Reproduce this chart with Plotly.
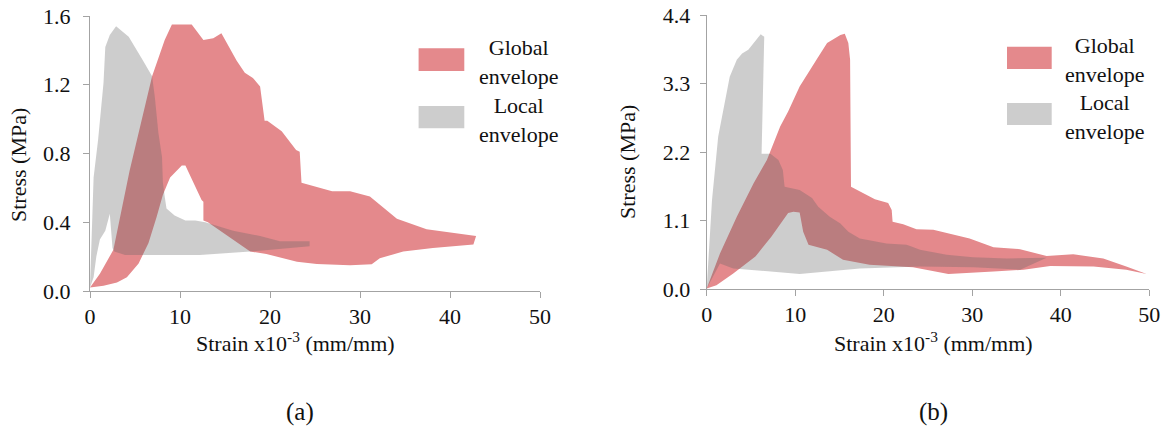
import plotly.graph_objects as go

# ---- (a) envelope outlines: strain (x10^-3 mm/mm) vs stress (MPa) ----
global_a_strain = [0, 1.1, 2.6, 4.4, 6.9, 7.6, 8.3, 9.1, 11.3, 12.6, 13.7, 14.6, 16.3, 17.2, 18.1,
                   18.9, 19.4, 19.7, 21.3, 22.9, 23.3, 23.5, 26.9, 28.9, 31.1, 34.1, 37.4, 42.9,
                   42.6, 38.1, 34.8, 32.2, 31.3, 28.9, 25.2, 23.0, 21.5, 19.6, 17.8, 13.1, 12.6,
                   12.6, 12.4, 11.5, 10.6, 10.2, 10.0, 8.9, 8.1, 7.4, 6.5, 5.4, 4.1, 3.0, 1.5, 0]
global_a_stress = [0.02, 0.10, 0.24, 0.70, 1.25, 1.36, 1.46, 1.55, 1.55, 1.46, 1.47, 1.50, 1.34, 1.27,
                   1.24, 1.19, 0.99, 0.99, 0.93, 0.82, 0.81, 0.63, 0.58, 0.58, 0.55, 0.42, 0.36, 0.32,
                   0.27, 0.25, 0.23, 0.19, 0.155, 0.15, 0.157, 0.17, 0.19, 0.215, 0.23, 0.40, 0.41,
                   0.52, 0.53, 0.63, 0.73, 0.73, 0.72, 0.66, 0.56, 0.43, 0.28, 0.16, 0.08, 0.05, 0.03, 0.02]

local_a_strain = [0, 0.2, 0.4, 0.9, 1.5, 1.7, 2.2, 2.9, 4.3, 5.9, 6.9, 7.2, 7.6, 8.0, 8.1, 8.3, 8.5,
                  9.4, 10.6, 11.7, 12.8, 15.9, 18.9, 21.1, 24.4, 24.4, 17.8, 12.2, 6.7, 3.9, 2.7,
                  2.5, 2.2, 1.7, 1.1, 0.7, 0.4, 0]
local_a_stress = [0.02, 0.35, 0.66, 0.88, 1.21, 1.42, 1.49, 1.54, 1.48, 1.34, 1.25, 1.13, 0.92, 0.78,
                  0.63, 0.55, 0.48, 0.44, 0.41, 0.41, 0.40, 0.35, 0.32, 0.29, 0.29, 0.26, 0.23, 0.21,
                  0.21, 0.21, 0.23, 0.25, 0.45, 0.35, 0.30, 0.20, 0.08, 0.02]

# ---- (b) envelope outlines ----
global_b_strain = [0, 1.5, 3.4, 5.3, 6.8, 8.3, 9.2, 10.5, 12.4, 13.6, 15.1, 15.6, 16.0, 16.2, 16.3,
                   18.1, 19.0, 20.5, 20.9, 21.0, 22.2, 23.7, 25.6, 29.7, 32.4, 35.4, 38.4, 41.4,
                   44.8, 47.4, 49.7, 47.4, 43.7, 38.8, 35.8, 32.4, 29.4, 27.3, 23.3, 18.4, 15.4,
                   13.6, 11.5, 10.9, 10.5, 9.8, 9.2, 7.3, 5.5, 3.0, 1.1, 0]
global_b_stress = [0.01, 0.57, 1.16, 1.70, 2.07, 2.61, 2.85, 3.25, 3.68, 3.95, 4.08, 4.10, 3.95, 3.68,
                   1.64, 1.51, 1.44, 1.38, 1.27, 1.08, 1.04, 0.96, 0.95, 0.81, 0.67, 0.64, 0.53, 0.56,
                   0.49, 0.36, 0.24, 0.31, 0.36, 0.37, 0.31, 0.28, 0.26, 0.24, 0.35, 0.39, 0.47,
                   0.63, 0.71, 0.92, 1.23, 1.24, 1.22, 0.84, 0.52, 0.25, 0.06, 0.01]

local_b_strain = [0, 0.6, 1.3, 1.9, 2.6, 3.4, 4.0, 4.7, 5.3, 6.1, 6.5, 6.2, 7.2, 8.1, 8.6, 8.8, 10.5,
                  11.9, 12.6, 13.9, 15.1, 16.0, 17.3, 20.3, 22.6, 24.1, 27.1, 30.1, 33.9, 38.4,
                  35.4, 30.1, 24.1, 17.3, 10.5, 6.0, 3.0, 1.5, 0]
local_b_stress = [0.01, 1.43, 2.45, 2.87, 3.41, 3.68, 3.78, 3.84, 3.95, 4.09, 4.05, 2.17, 2.17, 2.07,
                  1.91, 1.64, 1.59, 1.46, 1.32, 1.16, 1.05, 0.92, 0.81, 0.73, 0.71, 0.63, 0.55, 0.51,
                  0.49, 0.50, 0.31, 0.35, 0.36, 0.33, 0.24, 0.30, 0.33, 0.41, 0.01]

# ---- axis ticks ----
strain_ticks = [0, 10, 20, 30, 40, 50]
stress_ticks_a = [0.0, 0.4, 0.8, 1.2, 1.6]
stress_ticks_b = [0.0, 1.1, 2.2, 3.3, 4.4]

RED = "#E4898C"
GRAY = "rgba(99,99,99,0.32)"
AXIS = "#A3A3A3"
FONT = "Liberation Serif"
INK = "#111111"
W, H = 1170, 438


def px(x):
    return x / W


def py(y):
    return 1 - y / H


fig = go.Figure()

# red envelope first, translucent grey drawn over it
for xs, ys, color, xa, ya in [
    (global_a_strain, global_a_stress, RED, "x", "y"),
    (local_a_strain, local_a_stress, GRAY, "x", "y"),
    (global_b_strain, global_b_stress, RED, "x2", "y2"),
    (local_b_strain, local_b_stress, GRAY, "x2", "y2"),
]:
    fig.add_trace(go.Scatter(x=xs, y=ys, fill="toself", fillcolor=color, mode="lines",
                             line=dict(width=0, color="rgba(0,0,0,0)"), xaxis=xa, yaxis=ya,
                             hoverinfo="skip", showlegend=False))

tickfont = dict(family=FONT, size=22, color=INK)
xcommon = dict(range=[0, 50], tickvals=strain_ticks, showline=True, linecolor=AXIS, linewidth=1,
               ticks="outside", ticklen=6, tickcolor=AXIS, tickwidth=1, showgrid=False,
               zeroline=False, tickfont=tickfont, ticklabelstandoff=0, fixedrange=True,
               automargin=False)
ycommon = dict(showline=True, linecolor=AXIS, linewidth=1, ticks="outside", ticklen=6,
               tickcolor=AXIS, tickwidth=1, showgrid=False, zeroline=False, tickfont=tickfont,
               tickformat=".1f", fixedrange=True, automargin=False)

fig.update_layout(
    width=W, height=H,
    margin=dict(l=0, r=0, t=0, b=0, pad=0, autoexpand=False),
    paper_bgcolor="white", plot_bgcolor="rgba(0,0,0,0)",
    showlegend=False,
    xaxis=dict(domain=[px(90), px(540)], anchor="y", **xcommon),
    yaxis=dict(domain=[py(291), py(16)], anchor="x", range=[0, 1.6], tickvals=stress_ticks_a,
               ticklabelstandoff=8, **ycommon),
    xaxis2=dict(domain=[px(706.7), px(1149.3)], anchor="y2", **xcommon),
    yaxis2=dict(domain=[py(289), py(15)], anchor="x2", range=[0, 4.4], tickvals=stress_ticks_b,
                ticklabelstandoff=5, **ycommon),
)

# legend swatches
shapes = []
for (x0, x1, y0, y1, c) in [
    (418.6, 464.3, 48.3, 71.0, RED), (418.6, 464.3, 106.0, 128.3, GRAY),
    (1007.0, 1051.7, 46.7, 69.0, RED), (1007.0, 1051.7, 103.0, 125.0, GRAY),
]:
    shapes.append(dict(type="rect", xref="paper", yref="paper", x0=px(x0), x1=px(x1),
                       y0=py(y1), y1=py(y0), fillcolor=c, line=dict(width=0)))
fig.update_layout(shapes=shapes)

txt = dict(family=FONT, size=22, color=INK)
annotations = []
for (x, y, t) in [
    (518, 62, "Global<br>envelope"), (518, 120, "Local<br>envelope"),
    (1104, 60, "Global<br>envelope"), (1104, 117, "Local<br>envelope"),
]:
    annotations.append(dict(x=px(x), y=py(y), text=t, align="center"))

# axis titles and panel captions
annotations += [
    dict(x=px(295), y=py(342), text="Strain x10<sup>-3</sup> (mm/mm)"),
    dict(x=px(933), y=py(342), text="Strain x10<sup>-3</sup> (mm/mm)"),
    dict(x=px(19), y=py(165), text="Stress (MPa)", textangle=-90),
    dict(x=px(628), y=py(162), text="Stress (MPa)", textangle=-90),
    dict(x=px(300), y=py(412), text="(a)", font=dict(family=FONT, size=25, color=INK)),
    dict(x=px(933), y=py(412), text="(b)", font=dict(family=FONT, size=25, color=INK)),
]
for a in annotations:
    a.setdefault("font", txt)
    a.update(xref="paper", yref="paper", showarrow=False, xanchor="center", yanchor="middle")
fig.update_layout(annotations=annotations)

fig.write_html("out.html")
